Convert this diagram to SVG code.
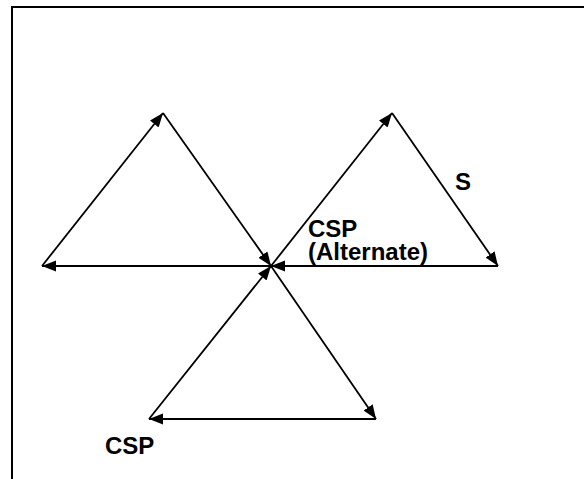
<svg xmlns="http://www.w3.org/2000/svg" width="584" height="479" viewBox="0 0 584 479">
<style>
.e{stroke:#000;stroke-width:1.8;fill:none;marker-end:url(#ah)}
.t{font-family:"Liberation Sans",Arial,sans-serif;font-weight:bold;font-size:24px;fill:#000}
</style>
<defs>
<marker id="ah" markerUnits="userSpaceOnUse" markerWidth="15" markerHeight="12" refX="14" refY="5.5" orient="auto">
<path d="M0,0 L14,5.5 L0,11 Z" fill="#000"/>
</marker>
</defs>
<rect width="584" height="479" fill="#fff"/>
<path d="M12,480 V7 H584" stroke="#000" stroke-width="2" fill="none"/>
<g id="connectors">
<line class="e" x1="271" y1="266" x2="42" y2="266"/>
<line class="e" x1="42" y1="266" x2="163" y2="113"/>
<line class="e" x1="163" y1="113" x2="271" y2="266"/>
<line class="e" x1="271" y1="266" x2="392" y2="113"/>
<line class="e" x1="392" y1="113" x2="498" y2="266"/>
<line class="e" x1="498" y1="266" x2="271" y2="266"/>
<line class="e" x1="271" y1="266" x2="376" y2="419"/>
<line class="e" x1="376" y1="419" x2="149" y2="419"/>
<line class="e" x1="149" y1="419" x2="271" y2="266"/>
</g>
<g id="label-csp-alt">
<text class="t" x="308" y="237">CSP</text>
<text class="t" x="308" y="260">(Alternate)</text>
</g>
<g id="label-s"><text class="t" x="455" y="190">S</text></g>
<g id="label-csp"><text class="t" x="105" y="454">CSP</text></g>
</svg>
